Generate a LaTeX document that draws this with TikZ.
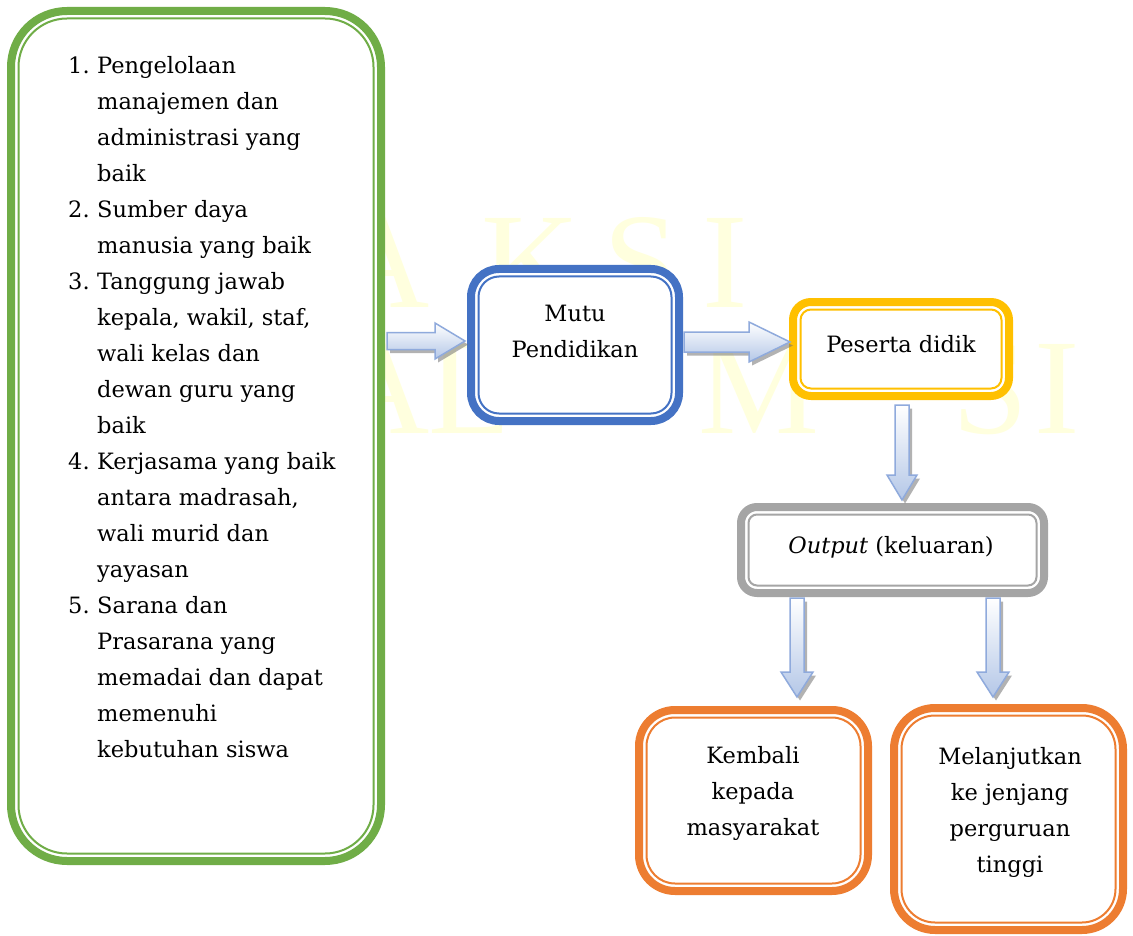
\documentclass[tikz,border=0pt]{standalone}
\usepackage{fontspec}
\setmainfont{DejaVu Serif}
\newfontfamily\wmfont{Liberation Serif}
\usetikzlibrary{calc}
\definecolor{cgreen}{HTML}{70AD47}
\definecolor{cblue}{HTML}{4472C4}
\definecolor{cyellow}{HTML}{FFC000}
\definecolor{cgray}{HTML}{A5A5A5}
\definecolor{corange}{HTML}{ED7D31}
\definecolor{arrline}{HTML}{8FAADC}
\definecolor{arrfill}{HTML}{B4C7E7}
\definecolor{wmyellow}{RGB}{255,255,222}
\tikzset{
  dbox/.style={draw=#1, line width=8pt, fill=white, inner sep=0pt, outer sep=4pt, rectangle},
  dinner/.style={draw=#1, line width=2pt},
  lbl/.style={inner sep=0pt, font=\fontsize{22.5}{36}\selectfont},
  wm/.style={inner sep=0pt, text=wmyellow, font=\wmfont\fontsize{136}{136}\selectfont},
  arrbody/.style={draw=arrline, line width=1.5pt, top color=white, bottom color=arrfill, line join=miter},
  arrshadow/.style={fill=black!55, opacity=0.55},
}
% #1 name, #2 colour, #3 centre, #4 width, #5 height, #6 outer radius, #7 inner radius
\newcommand\dblbox[7]{%
  \node[dbox=#2, rounded corners=#6, minimum width=#4, minimum height=#5] (#1) at (#3) {};
  \draw[dinner=#2, rounded corners=#7] ([xshift=11.5pt,yshift=11.5pt]#1.south west) rectangle ([xshift=-11.5pt,yshift=-11.5pt]#1.north east);
}
% right-pointing block arrow: #1 start, #2 tip, #3 shaft half, #4 head half, #5 head length
\newcommand\rblock[5]{%
  \path[arrshadow] let \p1=(#1), \p2=(#2) in
    (\x1+3pt,\y1+#3-3.5pt) -- (\x2-#5+3pt,\y1+#3-3.5pt) -- (\x2-#5+3pt,\y1+#4-3.5pt) -- (\x2+3pt,\y1-3.5pt) -- (\x2-#5+3pt,\y1-#4-3.5pt) -- (\x2-#5+3pt,\y1-#3-3.5pt) -- (\x1+3pt,\y1-#3-3.5pt) -- cycle;
  \path[arrbody] let \p1=(#1), \p2=(#2) in
    (\x1,\y1+#3) -- (\x2-#5,\y1+#3) -- (\x2-#5,\y1+#4) -- (\x2,\y1) -- (\x2-#5,\y1-#4) -- (\x2-#5,\y1-#3) -- (\x1,\y1-#3) -- cycle;
}
% down-pointing block arrow
\newcommand\dblock[5]{%
  \path[arrshadow] let \p1=(#1), \p2=(#2) in
    (\x1-#3+3pt,\y1-3.5pt) -- (\x1+#3+3pt,\y1-3.5pt) -- (\x1+#3+3pt,\y2+#5-3.5pt) -- (\x1+#4+3pt,\y2+#5-3.5pt) -- (\x1+3pt,\y2-3.5pt) -- (\x1-#4+3pt,\y2+#5-3.5pt) -- (\x1-#3+3pt,\y2+#5-3.5pt) -- cycle;
  \path[arrbody] let \p1=(#1), \p2=(#2) in
    (\x1-#3,\y1) -- (\x1+#3,\y1) -- (\x1+#3,\y2+#5) -- (\x1+#4,\y2+#5) -- (\x1,\y2) -- (\x1-#4,\y2+#5) -- (\x1-#3,\y2+#5) -- cycle;
}
\begin{document}
\begin{tikzpicture}[x=1pt,y=-1pt]
\useasboundingbox (0,0) rectangle (1133,936);
\fill[white] (0,0) rectangle (1133,936);
% watermark
\node[wm, anchor=base] (w1) at (381,307) {A};
\node[wm, anchor=base] (w2) at (531,307) {K};
\node[wm, anchor=base] (w3) at (641,307) {S};
\node[wm, anchor=base] (w4) at (725,307) {I};
\node[wm, anchor=base] (w5) at (381,433) {A};
\node[wm, anchor=base west] (w6) at (428,433) {L};
\node[wm, anchor=base west] (w7) at (698,433) {M};
\node[wm, anchor=base] (w8) at (990,433) {S};
\node[wm, anchor=base] (w9) at (1057,433) {I};
% boxes
\dblbox{green}{cgreen}{196,436}{370pt}{850pt}{56pt}{48.5pt}
\dblbox{mutu}{cblue}{575,345}{208pt}{152pt}{28pt}{20.5pt}
\dblbox{peserta}{cyellow}{901,349}{216pt}{94pt}{18pt}{10.5pt}
\dblbox{output}{cgray}{892.5,550}{303pt}{86pt}{16pt}{8.5pt}
\dblbox{kembali}{corange}{753.5,800.5}{229pt}{181pt}{36pt}{28.5pt}
\dblbox{lanjut}{corange}{1008.5,819}{229pt}{222pt}{41pt}{33.5pt}
% texts
\node[lbl, anchor=base west] (list) at (68,74) {\begin{tabular}[t]{@{}l@{}l@{}}
\makebox[29pt][l]{1.} & Pengelolaan\\
 & manajemen dan\\
 & administrasi yang\\
 & baik\\
\makebox[29pt][l]{2.} & Sumber daya\\
 & manusia yang baik\\
\makebox[29pt][l]{3.} & Tanggung jawab\\
 & kepala, wakil, staf,\\
 & wali kelas dan\\
 & dewan guru yang\\
 & baik\\
\makebox[29pt][l]{4.} & Kerjasama yang baik\\
 & antara madrasah,\\
 & wali murid dan\\
 & yayasan\\
\makebox[29pt][l]{5.} & Sarana dan\\
 & Prasarana yang\\
 & memadai dan dapat\\
 & memenuhi\\
 & kebutuhan siswa
\end{tabular}};
\node[lbl, anchor=base] (mutuT) at (575,321) {\begin{tabular}[t]{@{}c@{}}Mutu\\Pendidikan\end{tabular}};
\node[lbl, anchor=base] (pesertaT) at (901,352) {Peserta didik};
\node[lbl, anchor=base] (outputT) at (891,553) {\textit{Output} (keluaran)};
\node[lbl, anchor=base] (kembaliT) at (753,763) {\begin{tabular}[t]{@{}c@{}}Kembali\\kepada\\masyarakat\end{tabular}};
\node[lbl, anchor=base] (lanjutT) at (1010,764) {\begin{tabular}[t]{@{}c@{}}Melanjutkan\\ke jenjang\\perguruan\\tinggi\end{tabular}};
% connector end points
\coordinate (a1s) at ($(green.east |- 0,341)+(2,0)$);
\coordinate (a1e) at ($(mutu.west |- 0,341)+(-2,0)$);
\coordinate (a2s) at ($(mutu.east |- 0,342)+(1,0)$);
\coordinate (a2e) at ($(peserta.west |- 0,342)+(1,0)$);
\coordinate (a3s) at ($(peserta.south)+(1,5)$);
\coordinate (a3e) at ($(a3s |- output.north)+(0,-3)$);
\coordinate (a4s) at ($(797,0 |- output.south)+(0,1)$);
\coordinate (a4e) at ($(a4s |- kembali.north)+(0,-9)$);
\coordinate (a5s) at ($(993,0 |- output.south)+(0,1)$);
\coordinate (a5e) at ($(a5s |- lanjut.north)+(0,-7)$);
% block arrows
\rblock{a1s}{a1e}{8.5pt}{18pt}{30pt}
\rblock{a2s}{a2e}{10pt}{20pt}{41pt}
\dblock{a3s}{a3e}{7pt}{15pt}{25pt}
\dblock{a4s}{a4e}{7pt}{16pt}{25pt}
\dblock{a5s}{a5e}{7pt}{16pt}{25pt}
\end{tikzpicture}
\end{document}
